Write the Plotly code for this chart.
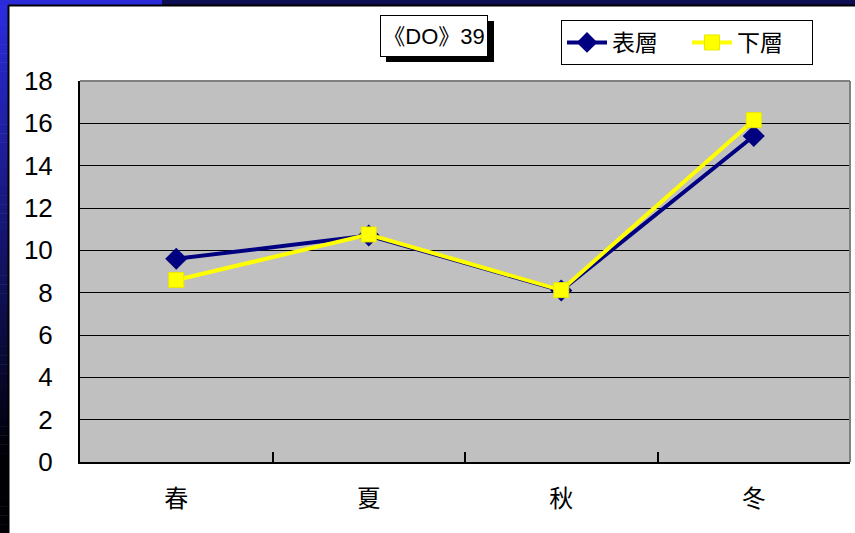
import plotly.graph_objects as go

# Seasonal values for the two layers
seasons = ["春", "夏", "秋", "冬"]
surface = [9.6, 10.7, 8.1, 15.4]   # 表層
bottom = [8.6, 10.75, 8.12, 16.15]  # 下層
y_ticks = [0, 2, 4, 6, 8, 10, 12, 14, 16, 18]

W, H = 855, 533
L, R, T, B = 80, 850, 81, 462  # plot area in pixels


def px_x(x):
    return (x - L) / (R - L)


def px_y(y):
    return (B - y) / (B - T)


fig = go.Figure()
fig.add_trace(go.Scatter(
    x=seasons, y=surface, name="表層", mode="lines+markers",
    line=dict(color="#000080", width=4),
    marker=dict(symbol="diamond", size=17, color="#000080"),
))
fig.add_trace(go.Scatter(
    x=seasons, y=bottom, name="下層", mode="lines+markers",
    line=dict(color="#FFFF00", width=4),
    marker=dict(symbol="square", size=15, color="#FFFF00",
                line=dict(color="#E8E800", width=1)),
))

shapes = []
# dark frame strip along the left edge (blue fading to black)
n = 60
for i in range(n):
    t = min(1.0, i / (n - 1) * 1.15)
    r = int(0x2c * (1 - t))
    g = int(0x2c * (1 - t))
    b = int(0xe0 * (1 - t) + 0x05 * t)
    y0 = H * i / n
    y1 = H * (i + 1) / n + 0.5
    shapes.append(dict(type="rect", xref="paper", yref="paper",
                       x0=px_x(0), x1=px_x(8), y0=px_y(y1), y1=px_y(y0),
                       line=dict(width=0), fillcolor=f"rgb({r},{g},{b})",
                       layer="above"))
# top strip
shapes.append(dict(type="rect", xref="paper", yref="paper",
                   x0=px_x(0), x1=px_x(162), y0=px_y(5), y1=px_y(0),
                   line=dict(width=0), fillcolor="#2a2ad8", layer="above"))
shapes.append(dict(type="rect", xref="paper", yref="paper",
                   x0=px_x(162), x1=px_x(W), y0=px_y(5), y1=px_y(0),
                   line=dict(width=0), fillcolor="#0e0e52", layer="above"))
# thin black edge of the white panel
shapes.append(dict(type="line", xref="paper", yref="paper",
                   x0=px_x(8.5), x1=px_x(8.5), y0=px_y(H), y1=px_y(5),
                   line=dict(color="black", width=2), layer="above"))
shapes.append(dict(type="line", xref="paper", yref="paper",
                   x0=px_x(8), x1=px_x(W), y0=px_y(5.5), y1=px_y(5.5),
                   line=dict(color="black", width=2), layer="above"))
# grey top/right edges of the plot area
shapes.append(dict(type="line", xref="paper", yref="paper",
                   x0=0, x1=1, y0=1, y1=1,
                   line=dict(color="#808080", width=2), layer="above"))
shapes.append(dict(type="line", xref="paper", yref="paper",
                   x0=1, x1=1, y0=0, y1=1,
                   line=dict(color="#808080", width=2), layer="above"))
# shadow behind the title box
shapes.append(dict(type="rect", xref="paper", yref="paper",
                   x0=px_x(386), x1=px_x(494), y0=px_y(62), y1=px_y(21),
                   line=dict(width=0), fillcolor="black", layer="above"))

fig.update_layout(
    width=W, height=H,
    margin=dict(l=L, r=W - R, t=T, b=H - B, pad=0, autoexpand=False),
    paper_bgcolor="white", plot_bgcolor="#C0C0C0",
    font=dict(family="Liberation Sans, Arial, sans-serif", color="black"),
    showlegend=True,
    legend=dict(
        orientation="h", x=px_x(561), y=px_y(20), xanchor="left", yanchor="top",
        bgcolor="white", bordercolor="black", borderwidth=1,
        font=dict(family="Noto Sans CJK TC", size=23, color="black"),
        itemwidth=40, entrywidth=70, entrywidthmode="pixels",
        tracegroupgap=0,
    ),
    shapes=shapes,
    annotations=[dict(
        xref="paper", yref="paper", x=px_x(434), y=px_y(36),
        text="《DO》39", showarrow=False,
        font=dict(family="Liberation Sans, Noto Sans CJK TC", size=22, color="black"),
        bgcolor="white", bordercolor="black", borderwidth=1,
        width=104, height=38, xanchor="center", yanchor="middle",
    )],
    xaxis=dict(
        type="category", categoryorder="array", categoryarray=seasons,
        range=[-0.5, 3.5], showgrid=False, showline=True, linecolor="black",
        linewidth=2, ticks="inside", tickson="boundaries", ticklen=10,
        tickwidth=2, tickcolor="black",
        tickfont=dict(family="Noto Sans CJK TC", size=24, color="black"),
        ticklabelstandoff=14, zeroline=False,
    ),
    yaxis=dict(
        range=[0, 18], tickvals=y_ticks, showgrid=True, gridcolor="black",
        gridwidth=1, showline=True, linecolor="black", linewidth=2,
        ticks="", ticklabelstandoff=20,
        tickfont=dict(family="Liberation Sans, Arial", size=26, color="black"),
        zeroline=False,
    ),
)

fig.write_html("out.html")
